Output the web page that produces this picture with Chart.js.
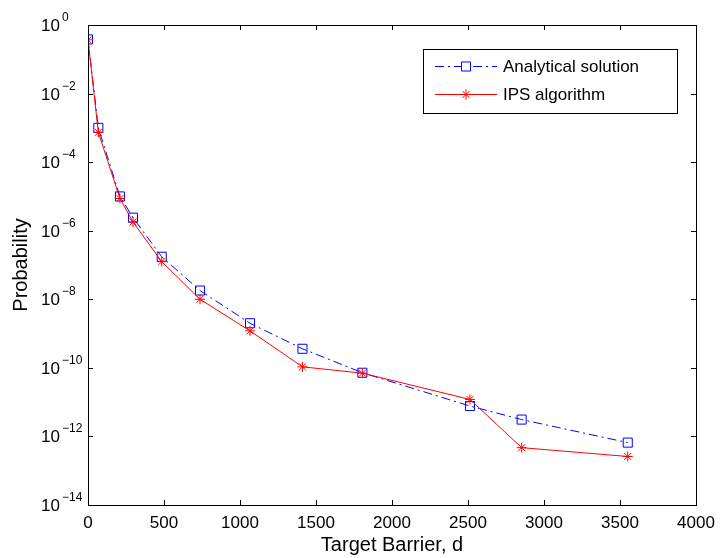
<!DOCTYPE html>
<html lang="en">
<head>
  <meta charset="UTF-8">
  <title>Probability vs Target Barrier</title>
  <script src="https://cdn.jsdelivr.net/npm/chart.js"></script>
  <style>
    body { margin: 0; background: #fff; }
    #wrap { width: 721px; height: 558px; }
  </style>
</head>
<body>
  <div id="wrap">
    <canvas id="probChart" width="721" height="558"></canvas>
  </div>

  <script>
    // values
    const barrier = [0, 68, 210, 296, 485, 737, 1066, 1411, 1805, 2513, 2853, 3551];
    const analytical = [0.38, 1.0e-3, 1.0e-5, 2.4e-6, 1.74e-7, 1.8e-8, 2.0e-9, 3.6e-10, 7.2e-11, 7.7e-12, 3.1e-12, 6.6e-13];
    const ips = [0.37, 7.4e-4, 8.7e-6, 1.8e-6, 1.25e-7, 1.0e-8, 1.2e-9, 1.07e-10, 7.0e-11, 1.2e-11, 4.7e-13, 2.6e-13];

    const xTicks = [0, 500, 1000, 1500, 2000, 2500, 3000, 3500, 4000];
    const yExponents = [0, -2, -4, -6, -8, -10, -12, -14];
    const seriesNames = ['Analytical solution', 'IPS algorithm'];

    const FONT = '"Liberation Sans", Arial, Helvetica, sans-serif';
    const BLUE = 'rgb(0,0,255)';
    const RED = 'rgb(255,0,0)';

    const toPoints = (ys) => barrier.map((x, i) => ({ x: x, y: ys[i] }));

    // axes box, inward ticks, labels and legend drawn like a matlab figure
    const matlabAxes = {
      id: 'matlabAxes',
      afterDraw(chart) {
        const ctx = chart.ctx;
        const a = chart.chartArea;
        const xs = chart.scales.x;
        const ys = chart.scales.y;
        ctx.save();
        ctx.strokeStyle = '#000';
        ctx.lineWidth = 1;
        ctx.strokeRect(Math.round(a.left) + 0.5, Math.round(a.top) + 0.5,
          Math.round(a.right - a.left), Math.round(a.bottom - a.top));

        const tl = 5;
        ctx.beginPath();
        xTicks.forEach(v => {
          const px = Math.round(xs.getPixelForValue(v)) + 0.5;
          ctx.moveTo(px, a.bottom); ctx.lineTo(px, a.bottom - tl);
          ctx.moveTo(px, a.top); ctx.lineTo(px, a.top + tl);
        });
        yExponents.forEach(e => {
          const py = Math.round(ys.getPixelForValue(Math.pow(10, e))) + 0.5;
          ctx.moveTo(a.left, py); ctx.lineTo(a.left + tl, py);
          ctx.moveTo(a.right, py); ctx.lineTo(a.right - tl, py);
        });
        ctx.stroke();

        // tick labels
        ctx.fillStyle = '#000';
        ctx.font = '17px ' + FONT;
        ctx.textAlign = 'center';
        ctx.textBaseline = 'alphabetic';
        xTicks.forEach(v => {
          ctx.fillText(String(v), xs.getPixelForValue(v), a.bottom + 23);
        });
        yExponents.forEach(e => {
          const py = ys.getPixelForValue(Math.pow(10, e));
          ctx.textAlign = 'left';
          ctx.font = '17px ' + FONT;
          ctx.fillText('10', 41, py + 6);
          ctx.font = '12px ' + FONT;
          ctx.fillText(e === 0 ? '0' : '\u2212' + String(-e), 62, py - 4);
        });

        // axis titles
        ctx.font = '20px ' + FONT;
        ctx.textAlign = 'center';
        ctx.fillText('Target Barrier, d', (a.left + a.right) / 2, 551);
        ctx.save();
        ctx.translate(27, (a.top + a.bottom) / 2);
        ctx.rotate(-Math.PI / 2);
        ctx.fillText('Probability', 0, 0);
        ctx.restore();

        // legend
        const lx = 423, ly = 49, lw = 254, lh = 64;
        ctx.fillStyle = '#fff';
        ctx.fillRect(lx, ly, lw, lh);
        ctx.strokeStyle = '#000';
        ctx.strokeRect(lx + 0.5, ly + 0.5, lw, lh);
        const rows = [66, 94];
        const colors = [BLUE, RED];
        rows.forEach((ry, i) => {
          ctx.strokeStyle = colors[i];
          ctx.lineWidth = 1;
          ctx.setLineDash(i === 0 ? [9, 4, 2, 4] : []);
          ctx.beginPath();
          ctx.moveTo(435, ry + 0.5); ctx.lineTo(497, ry + 0.5);
          ctx.stroke();
          ctx.setLineDash([]);
          Chart.helpers.drawPoint(ctx, {
            pointStyle: i === 0 ? 'rect' : 'star',
            radius: i === 0 ? 6.4 : 5,
            rotation: 0,
            borderWidth: 1
          }, 466, ry + 0.5);
          ctx.fillStyle = '#000';
          ctx.font = '17px ' + FONT;
          ctx.textAlign = 'left';
          ctx.textBaseline = 'middle';
          ctx.fillText(seriesNames[i], 503, ry + 1);
        });
        ctx.restore();
      }
    };

    const ctxProb = document.getElementById('probChart').getContext('2d');

    new Chart(ctxProb, {
      type: 'line',
      data: {
        datasets: [{
          label: seriesNames[0],
          data: toPoints(analytical),
          borderColor: BLUE,
          backgroundColor: 'rgba(0,0,0,0)',
          borderWidth: 1,
          borderDash: [9, 4, 2, 4],
          pointStyle: 'rect',
          pointRadius: 6.4,
          pointBorderColor: BLUE,
          pointBackgroundColor: 'rgba(0,0,0,0)',
          pointBorderWidth: 1,
          tension: 0,
          order: 1
        }, {
          label: seriesNames[1],
          data: toPoints(ips),
          borderColor: RED,
          backgroundColor: 'rgba(0,0,0,0)',
          borderWidth: 1,
          pointStyle: 'star',
          pointRadius: 5,
          pointBorderColor: RED,
          pointBorderWidth: 1,
          tension: 0,
          order: 0
        }]
      },
      options: {
        responsive: false,
        animation: false,
        layout: { padding: { left: 88, right: 25, top: 25, bottom: 53 } },
        plugins: {
          legend: { display: false },
          tooltip: { enabled: false }
        },
        scales: {
          x: { type: 'linear', min: 0, max: 4000, display: false },
          y: { type: 'logarithmic', min: 1e-14, max: 1, display: false }
        }
      },
      plugins: [matlabAxes]
    });
  </script>
</body>
</html>
